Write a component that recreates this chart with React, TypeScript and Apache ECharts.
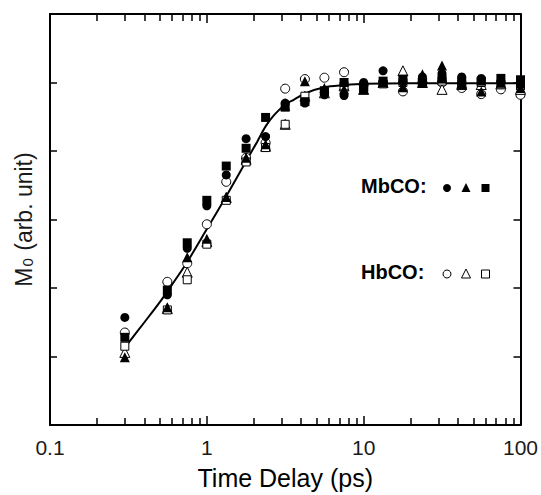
import React, { useEffect, useRef } from "react";
import * as echarts from "echarts";

// Time delay (ps) for every measured point
const timeDelay = [0.3, 0.56, 0.75, 1.0, 1.33, 1.78, 2.37, 3.16, 4.22, 5.62, 7.5, 10, 13.3, 17.8, 23.7, 31.6, 42.2, 56.2, 75, 100];

// MbCO (filled symbols)
const mbcoCircle = [1.57, 1.9, 2.58, 3.2, 3.65, 4.18, 4.21, 4.7, 4.7, 4.82, 4.81, 5.0, 5.17, 5.0, 5.08, 5.13, 5.08, 5.06, 5.0, 4.96];
const mbcoTriangle = [0.99, 1.72, 2.45, 2.72, 3.33, 3.9, 4.1, 4.66, 5.02, 4.92, 4.9, 4.9, 5.0, 4.93, 5.12, 5.25, 4.98, 4.87, 5.0, 4.92];
const mbcoSquare = [1.28, 1.97, 2.66, 3.28, 3.78, 4.04, 4.49, 4.64, 4.72, 4.88, 5.0, 4.93, 5.02, 5.05, 5.0, 5.05, 5.02, 5.02, 5.06, 5.04];

// HbCO (open symbols)
const hbcoCircle = [1.35, 2.09, 2.36, 2.93, 3.55, 3.9, 4.12, 4.91, 5.05, 5.07, 5.15, 4.97, 5.0, 4.87, 5.0, 5.0, 4.92, 4.83, 4.9, 4.82];
const hbcoTriangle = [1.06, 1.7, 2.23, 2.68, 3.32, 3.88, 4.07, 4.39, 4.8, 4.85, 4.95, 4.9, 5.0, 5.17, 5.0, 4.9, 4.97, 4.97, 4.98, 4.9];
const hbcoSquare = [1.15, 1.68, 2.12, 2.64, 3.28, 3.84, 4.05, 4.39, 4.8, 4.86, 4.95, 4.92, 4.98, 5.0, 5.0, 5.02, 4.97, 5.0, 4.98, 4.95];

// Fitted curve
const fitX = [0.3, 0.4, 0.5, 0.6, 0.75, 1.0, 1.33, 1.78, 2.1, 2.37, 2.7, 3.16, 3.6, 4.22, 5.62, 7.5, 10, 20, 50, 100];
const fitY = [1.13, 1.5, 1.79, 2.05, 2.38, 2.86, 3.34, 3.85, 4.14, 4.36, 4.53, 4.68, 4.75, 4.84, 4.93, 4.96, 4.98, 4.99, 4.99, 4.99];

// Axis ticks
const xMajorTicks = [0.1, 1, 10, 100];
const xTickLabels = ["0.1", "1", "10", "100"];
const xMinorTicks = [0.2, 0.3, 0.4, 0.5, 0.6, 0.7, 0.8, 0.9, 2, 3, 4, 5, 6, 7, 8, 9, 20, 30, 40, 50, 60, 70, 80, 90];

const INK = "#000000";
const FONT = "Liberation Sans, Arial, sans-serif";

export default function App() {
  const ref = useRef<HTMLDivElement>(null);

  useEffect(() => {
    if (!ref.current) return;
    const chart = echarts.init(ref.current, null, { renderer: "svg" });

    const pairs = (ys: number[]) => timeDelay.map((x, i) => [x, ys[i]]);

    const filled = { color: INK, borderColor: INK, borderWidth: 0, opacity: 1 };
    const open = { color: "#ffffff", borderColor: INK, borderWidth: 1, opacity: 1 };

    const scatter = (name: string, ys: number[], symbol: string, size: number, style: any, z: number) => ({
      name,
      type: "scatter",
      xAxisIndex: 0,
      yAxisIndex: 0,
      data: pairs(ys),
      symbol,
      symbolSize: size,
      itemStyle: style,
      z,
    });

    const xAxisBase = (ticks: number[], len: number, showLine: boolean) => ({
      type: "log",
      logBase: 10,
      min: 0.1,
      max: 100,
      splitLine: { show: false },
      axisLine: { show: showLine, onZero: false, lineStyle: { color: INK, width: 2 } },
      axisTick: {
        show: true,
        inside: true,
        length: len,
        customValues: ticks,
        lineStyle: { color: INK, width: 1.5 },
      },
      minorTick: { show: false },
    });

    const yAxisBase = {
      type: "value",
      min: 0,
      max: 6,
      interval: 1,
      splitLine: { show: false },
      axisLine: { show: true, onZero: false, lineStyle: { color: INK, width: 2 } },
      axisTick: { show: true, inside: true, length: 7, lineStyle: { color: INK, width: 1.5 } },
      axisLabel: { show: false },
    };

    const legendRow = (label: string, y: number, isFilled: boolean) => {
      const st = isFilled
        ? { fill: INK, stroke: INK, lineWidth: 0 }
        : { fill: "#ffffff", stroke: INK, lineWidth: 1 };
      return [
        {
          type: "text",
          left: 361,
          top: y - 12,
          style: { text: label, font: `bold 20px ${FONT}`, fill: INK },
        },
        { type: "circle", shape: { cx: 447, cy: y, r: 4 }, style: st },
        {
          type: "polygon",
          shape: { points: [[466, y - 5], [461.5, y + 4], [470.5, y + 4]] },
          style: st,
        },
        { type: "rect", shape: { x: 481.5, y: y - 4, width: 8, height: 8 }, style: st },
      ];
    };

    const option: any = {
      animation: false,
      backgroundColor: "#ffffff",
      textStyle: { fontFamily: FONT },
      grid: { left: 50, right: 20, top: 14, bottom: 69, containLabel: false },
      xAxis: [
        {
          ...xAxisBase(xMinorTicks, 7, true),
          position: "bottom",
          name: "Time Delay (ps)",
          nameLocation: "middle",
          nameGap: 40,
          nameTextStyle: { fontSize: 25, color: INK, fontFamily: FONT },
          axisLabel: {
            show: true,
            margin: 12,
            fontSize: 21,
            color: "#1a1a1a",
            fontFamily: FONT,
            customValues: xMajorTicks,
            formatter: (v: number) => {
              const i = xMajorTicks.findIndex((t) => Math.abs(t - v) / t < 1e-6);
              return i >= 0 ? xTickLabels[i] : "";
            },
          },
        },
        {
          ...xAxisBase(xMinorTicks, 7, true),
          position: "top",
          axisLabel: { show: false },
        },
        {
          ...xAxisBase(xMajorTicks, 9, false),
          position: "bottom",
          axisLabel: { show: false },
        },
        {
          ...xAxisBase(xMajorTicks, 9, false),
          position: "top",
          axisLabel: { show: false },
        },
      ],
      yAxis: [
        {
          ...yAxisBase,
          position: "left",
          name: "{m|M}{s|0}{m| (arb. unit)}",
          nameLocation: "middle",
          nameGap: 15,
          nameRotate: 90,
          nameTextStyle: {
            color: "#1a1a1a",
            fontFamily: FONT,
            rich: {
              m: { fontSize: 23, color: "#1a1a1a", fontFamily: FONT, lineHeight: 26, verticalAlign: "bottom" },
              s: { fontSize: 15, color: "#1a1a1a", fontFamily: FONT, lineHeight: 15, verticalAlign: "bottom", padding: [0, 1, 0, 1] },
            },
          },
        },
        { ...yAxisBase, position: "right" },
      ],
      series: [
        {
          name: "fit",
          type: "line",
          xAxisIndex: 0,
          yAxisIndex: 0,
          data: fitX.map((x, i) => [x, fitY[i]]),
          showSymbol: false,
          symbol: "none",
          smooth: 0.3,
          lineStyle: { color: INK, width: 2 },
          z: 3,
        },
        scatter("HbCO circle", hbcoCircle, "circle", 9, open, 4),
        scatter("HbCO triangle", hbcoTriangle, "triangle", 10, open, 4),
        scatter("HbCO square", hbcoSquare, "rect", 8, open, 4),
        scatter("MbCO circle", mbcoCircle, "circle", 9, filled, 5),
        scatter("MbCO triangle", mbcoTriangle, "triangle", 10, filled, 5),
        scatter("MbCO square", mbcoSquare, "rect", 9, filled, 5),
      ],
      graphic: [...legendRow("MbCO:", 188, true), ...legendRow("HbCO:", 274, false)],
    };

    chart.setOption(option);
    return () => chart.dispose();
  }, []);

  return (
    <div
      ref={ref}
      style={{ position: "fixed", left: 0, top: 0, width: 541, height: 495, background: "#fff" }}
    />
  );
}
